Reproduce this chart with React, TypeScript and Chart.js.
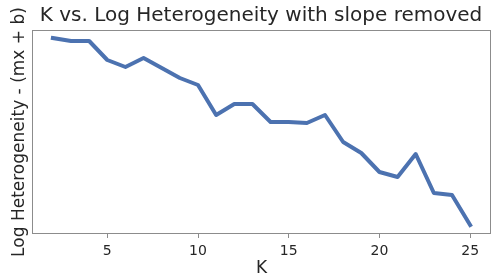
import React, { useEffect, useRef } from "react";
import { Chart, registerables } from "chart.js";

Chart.register(...registerables);

const kValues = [2, 3, 4, 5, 6, 7, 8, 9, 10, 11, 12, 13, 14, 15, 16, 17, 18, 19, 20, 21, 22, 23, 24, 25];
const residuals = [19.6, 19.3, 19.3, 17.4, 16.7, 17.6, 16.6, 15.6, 14.9, 11.9, 13.0, 13.0, 11.2, 11.2, 11.1, 11.9, 9.2, 8.1, 6.2, 5.7, 8.0, 4.1, 3.9, 0.9];
const xTicks = [5, 10, 15, 20, 25];
const titleText = "K vs. Log Heterogeneity with slope removed";
const xLabel = "K";
const yLabel = "Log Heterogeneity - (mx + b)";

const FONT = "'DejaVu Sans', sans-serif";
const TEXT = "#262626";

const framePlugin = {
  id: "frame",
  beforeDatasetsDraw(chart: any) {
    const { ctx, chartArea } = chart;
    ctx.save();
    ctx.strokeStyle = "#8c8c8c";
    ctx.lineWidth = 1;
    ctx.strokeRect(chartArea.left + 0.5, chartArea.top + 0.5, chartArea.right - chartArea.left - 1, chartArea.bottom - chartArea.top - 1);
    ctx.restore();
  },
};

export default function App() {
  const ref = useRef<HTMLCanvasElement>(null);
  useEffect(() => {
    if (!ref.current) return;
    const chart = new Chart(ref.current, {
      type: "line",
      data: {
        datasets: [
          {
            data: kValues.map((k, i) => ({ x: k, y: residuals[i] })),
            borderColor: "#4c72b0",
            borderWidth: 4,
            pointRadius: 0,
            tension: 0,
            borderJoinStyle: "round",
            borderCapStyle: "square",
          },
        ],
      },
      options: {
        responsive: false,
        animation: false,
        devicePixelRatio: 1,
        layout: { padding: { left: 31, right: 2, top: 0, bottom: 0 } },
        plugins: {
          legend: { display: false },
          tooltip: { enabled: false },
          title: {
            display: true,
            text: titleText,
            color: TEXT,
            font: { family: FONT, size: 20, weight: "normal", lineHeight: 1.2 },
            padding: { top: 4, bottom: 2 },
          },
        },
        scales: {
          x: {
            type: "linear",
            min: 0.85,
            max: 26.15,
            afterFit(scale: any) {
              scale.height = 45;
            },
            afterBuildTicks(scale: any) {
              scale.ticks = xTicks.map((v) => ({ value: v }));
            },
            grid: { drawOnChartArea: false, drawTicks: true, tickLength: 4, color: "#8c8c8c" },
            border: { display: false },
            ticks: {
              color: TEXT,
              font: { family: FONT, size: 14 },
              padding: 5,
              maxRotation: 0,
              autoSkip: false,
            },
            title: {
              display: true,
              text: xLabel,
              color: TEXT,
              font: { family: FONT, size: 17, lineHeight: 1.2 },
              padding: { top: 0, bottom: 0 },
            },
          },
          y: {
            min: 0,
            max: 20.4,
            afterFit(scale: any) {
              scale.width = 1;
            },
            grid: { display: false },
            border: { display: false },
            ticks: { display: false },
            title: {
              display: true,
              text: yLabel,
              color: TEXT,
              font: { family: FONT, size: 17, lineHeight: 1.2 },
              padding: { top: -22, bottom: 0 },
            },
          },
        },
      },
      plugins: [framePlugin],
    } as any);
    return () => chart.destroy();
  }, []);
  return (
    <div style={{ position: "absolute", left: 0, top: 0, width: 493, height: 279, background: "#fff" }}>
      <canvas ref={ref} width={493} height={279} style={{ display: "block" }} />
    </div>
  );
}
